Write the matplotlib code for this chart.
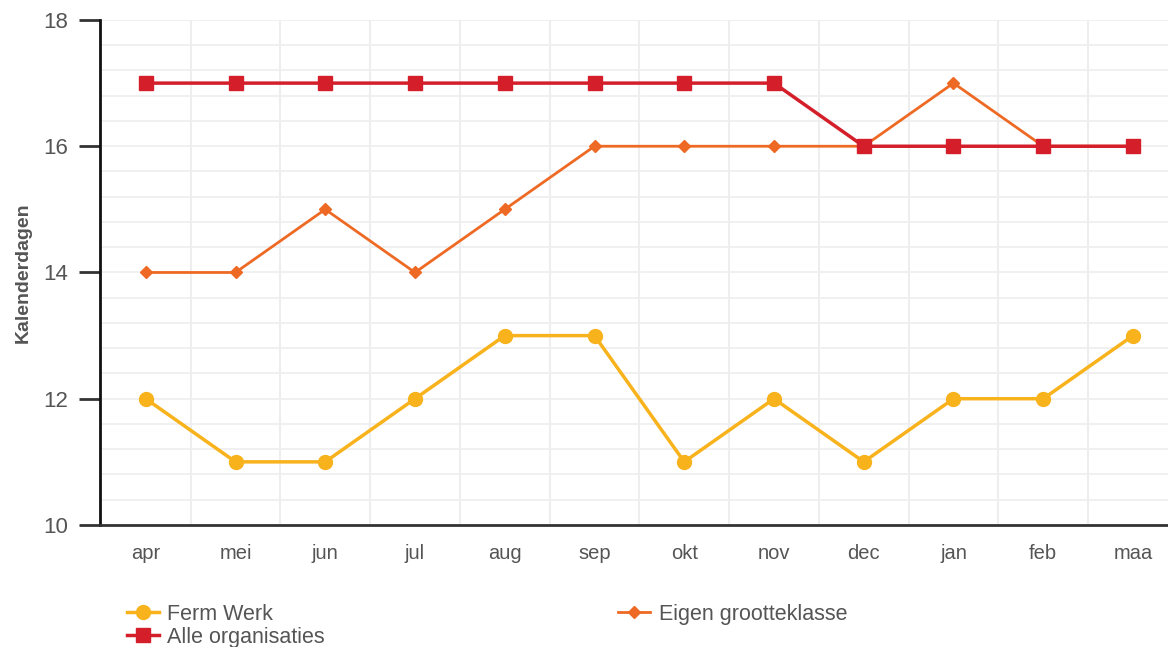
import matplotlib.pyplot as plt
from matplotlib.ticker import MultipleLocator
import numpy as np

plt.rcParams['font.family'] = ['Liberation Sans', 'DejaVu Sans']

months = ['apr', 'mei', 'jun', 'jul', 'aug', 'sep', 'okt', 'nov', 'dec', 'jan', 'feb', 'maa']
ferm_werk = [12, 11, 11, 12, 13, 13, 11, 12, 11, 12, 12, 13]
eigen_klasse = [14, 14, 15, 14, 15, 16, 16, 16, 16, 17, 16, 16]
alle_orgs = [17, 17, 17, 17, 17, 17, 17, 17, 16, 16, 16, 16]

c_ferm = '#F8B21C'
c_eigen = '#EE6A24'
c_alle = '#D41F2B'
txt = '#555555'

fig = plt.figure(figsize=(11.68, 6.47), dpi=100)
ax = fig.add_axes([0.0856, 0.1886, 0.9144, 0.7805])

x = np.arange(len(months))
l_eigen, = ax.plot(x, eigen_klasse, color=c_eigen, lw=2, marker='D', ms=6, zorder=3,
                   label='Eigen grootteklasse')
l_alle, = ax.plot(x, alle_orgs, color=c_alle, lw=2.5, marker='s', ms=10, zorder=4,
                  label='Alle organisaties')
l_ferm, = ax.plot(x, ferm_werk, color=c_ferm, lw=2.5, marker='o', ms=10, zorder=3,
                  label='Ferm Werk')

ax.set_xlim(-0.51, 11.39)
ax.set_ylim(10, 18)
ax.set_yticks([10, 12, 14, 16, 18])
ax.yaxis.set_minor_locator(MultipleLocator(0.4))
ax.set_xticks(x)
ax.set_xticklabels(months)
ax.set_xticks(x[:-1] + 0.5, minor=True)

ax.grid(True, which='both', axis='y', color='#eeeeee', lw=1.2, zorder=0)
ax.grid(True, which='minor', axis='x', color='#eeeeee', lw=1.5, zorder=0)
ax.tick_params(axis='x', which='both', length=0, labelsize=14.5, labelcolor=txt, pad=14)
ax.tick_params(axis='y', which='major', length=15, width=2, color='#333333',
               labelsize=16, labelcolor=txt, pad=8)
ax.tick_params(axis='y', which='minor', length=0)

for s in ['top', 'right']:
    ax.spines[s].set_visible(False)
ax.spines['left'].set_linewidth(2)
ax.spines['bottom'].set_linewidth(2)
ax.spines['left'].set_color('#111111')
ax.spines['bottom'].set_color('#333333')

ax.set_ylabel('Kalenderdagen', fontsize=14, fontweight='bold', color=txt, labelpad=8)

fig.legend(handles=[l_ferm, l_alle, l_eigen], ncol=2, loc='upper left',
           bbox_to_anchor=(0.101, 0.08), frameon=False, fontsize=15.5,
           labelcolor=txt, handlelength=1.5, handletextpad=0.4,
           columnspacing=13.6, labelspacing=0.1, borderaxespad=0)

fig.savefig('out.png', dpi=100)
